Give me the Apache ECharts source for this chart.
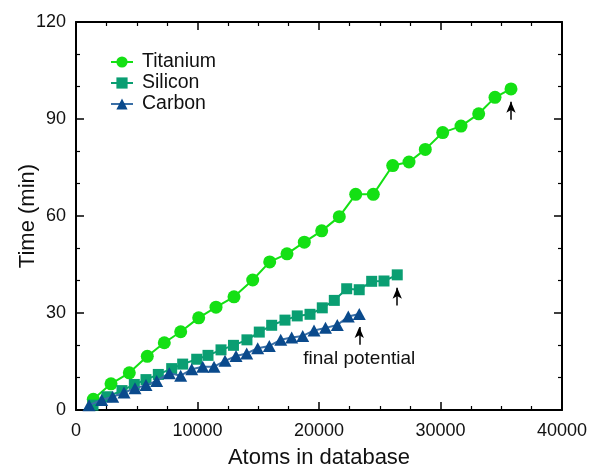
<!DOCTYPE html>
<html>
<head>
<meta charset="utf-8">
<script src="https://cdn.jsdelivr.net/npm/echarts@6/dist/echarts.min.js"></script>
<style>
html,body{margin:0;padding:0;background:#fff;}
#chart{width:590px;height:468px;}
</style>
</head>
<body>
<div id="chart"></div>
<script>
// ---- data ----
const titaniumX = [1424, 2881, 4387, 5868, 7267, 8617, 10098, 11523, 13004, 14543, 15942, 17366, 18790, 20222, 21671, 23021, 24469, 26066, 27407, 28749, 30181, 31687, 33143, 34485, 35802];
const titaniumY = [3.3, 8.1, 11.5, 16.6, 20.8, 24.2, 28.5, 31.8, 35.0, 40.2, 45.8, 48.3, 51.9, 55.4, 59.8, 66.7, 66.7, 75.6, 76.7, 80.6, 85.8, 87.8, 91.6, 96.7, 99.3];

const siliconX = [1400, 2550, 3785, 4800, 5760, 6775, 7875, 8780, 9935, 10865, 11935, 12960, 14070, 15085, 16105, 17200, 18210, 19260, 20270, 21260, 22280, 23310, 24335, 25350, 26440];
const siliconY = [1.5, 4.1, 6.0, 7.9, 9.4, 11.0, 12.8, 14.2, 15.7, 16.9, 18.6, 20.0, 21.7, 24.1, 26.2, 27.8, 29.1, 29.6, 31.6, 33.9, 37.5, 37.2, 39.8, 39.9, 41.8];

const carbonX = [1070, 2115, 3020, 3950, 4855, 5760, 6640, 7680, 8615, 9520, 10430, 11360, 12265, 13170, 14050, 14955, 15910, 16850, 17750, 18660, 19590, 20535, 21505, 22410, 23315];
const carbonY = [1.5, 3.1, 4.1, 5.4, 6.7, 7.7, 9.0, 11.4, 10.6, 12.6, 13.4, 13.4, 15.2, 16.7, 17.5, 19.1, 19.8, 21.7, 22.4, 22.9, 24.6, 25.4, 26.3, 28.9, 29.7];

const seriesNames = ['Titanium', 'Silicon', 'Carbon'];
const annotationText = 'final potential';
const xAxisTitle = 'Atoms in database';
const yAxisTitle = 'Time (min)';

// ---- build ----
const FONT = 'Liberation Sans, Arial, Helvetica, sans-serif';
const TXT = '#111';
function pairs(xs, ys){ return xs.map((x,i)=>[x, ys[i]]); }
function arrowFor(xs, ys){
  const lx = xs[xs.length-1], ly = ys[ys.length-1];
  return {
    silent: true, animation: false,
    symbol: ['none','arrow'], symbolSize: [7, 11],
    lineStyle: {color:'#000', width: 1.5, type:'solid'},
    label: {show:false},
    data: [[{coord:[lx, ly-9.5]}, {coord:[lx, ly-4]}]]
  };
}

const chart = echarts.init(document.getElementById('chart'), null, {renderer:'canvas'});

const baseAxis = {
  axisLine: {show:true, onZero:false, lineStyle:{color:'#000', width:2}},
  axisTick: {show:true, inside:true, length:8, lineStyle:{color:'#000', width:1.5}},
  minorTick: {show:true, length:4, lineStyle:{color:'#000', width:1.2}},
  splitLine: {show:false},
};

const option = {
  animation: false,
  backgroundColor: '#fff',
  grid: {left:76, right:28, top:22, bottom:58, containLabel:false, outerBoundsMode:'none'},
  legend: {
    orient:'vertical', left:105, top:47, itemWidth:22, itemHeight:14, itemGap:1,
    textStyle:{fontFamily:FONT, fontSize:19.5, color:TXT, lineHeight:20, padding:[0,0,0,4]},
    data: seriesNames
  },
  xAxis: [
    Object.assign({}, baseAxis, {
      type:'value', min:0, max:40000, interval:10000,
      minorTick: Object.assign({}, baseAxis.minorTick, {splitNumber:4}),
      axisLabel:{fontFamily:FONT, fontSize:18, color:TXT, margin:12, formatter: v => String(v)},
      name: xAxisTitle, nameLocation:'middle', nameGap:37,
      nameTextStyle:{fontFamily:FONT, fontSize:22, color:TXT}
    }),
    Object.assign({}, baseAxis, {
      type:'value', position:'top', min:0, max:40000, interval:10000,
      minorTick: Object.assign({}, baseAxis.minorTick, {splitNumber:4}),
      axisLabel:{show:false}
    })
  ],
  yAxis: [
    Object.assign({}, baseAxis, {
      type:'value', min:0, max:120, interval:30,
      minorTick: Object.assign({}, baseAxis.minorTick, {splitNumber:3}),
      axisLabel:{fontFamily:FONT, fontSize:18, color:TXT, margin:10},
      name: yAxisTitle, nameLocation:'middle', nameGap:37, nameMoveOverlap:false,
      nameTextStyle:{fontFamily:FONT, fontSize:22, color:TXT}
    }),
    Object.assign({}, baseAxis, {
      type:'value', position:'right', min:0, max:120, interval:30,
      minorTick: Object.assign({}, baseAxis.minorTick, {splitNumber:3}),
      axisLabel:{show:false}
    })
  ],
  series: [
    {
      name: seriesNames[0], type:'line', data: pairs(titaniumX, titaniumY),
      symbol:'circle', symbolSize:13, showAllSymbol:true,
      itemStyle:{color:'#14e014'}, lineStyle:{color:'#14e014', width:2},
      markLine: arrowFor(titaniumX, titaniumY), z:2
    },
    {
      name: seriesNames[1], type:'line', data: pairs(siliconX, siliconY),
      symbol:'rect', symbolSize:11, showAllSymbol:true,
      itemStyle:{color:'#0a9e72'}, lineStyle:{color:'#0a9e72', width:2},
      markLine: arrowFor(siliconX, siliconY), z:3
    },
    {
      name: seriesNames[2], type:'line', data: pairs(carbonX, carbonY),
      symbol:'triangle', symbolSize:[13,12], showAllSymbol:true,
      itemStyle:{color:'#0a4a8c'}, lineStyle:{color:'#3a6fa6', width:2},
      markLine: arrowFor(carbonX, carbonY), z:4,
      markPoint: {
        silent:true, symbol:'circle', symbolSize:0,
        label:{show:true, position:'inside', formatter: annotationText, fontFamily:FONT, fontSize:19, color:TXT},
        data:[{coord:[carbonX[carbonX.length-1], carbonY[carbonY.length-1]-14]}]
      }
    }
  ]
};
chart.setOption(option);
</script>
</body>
</html>
